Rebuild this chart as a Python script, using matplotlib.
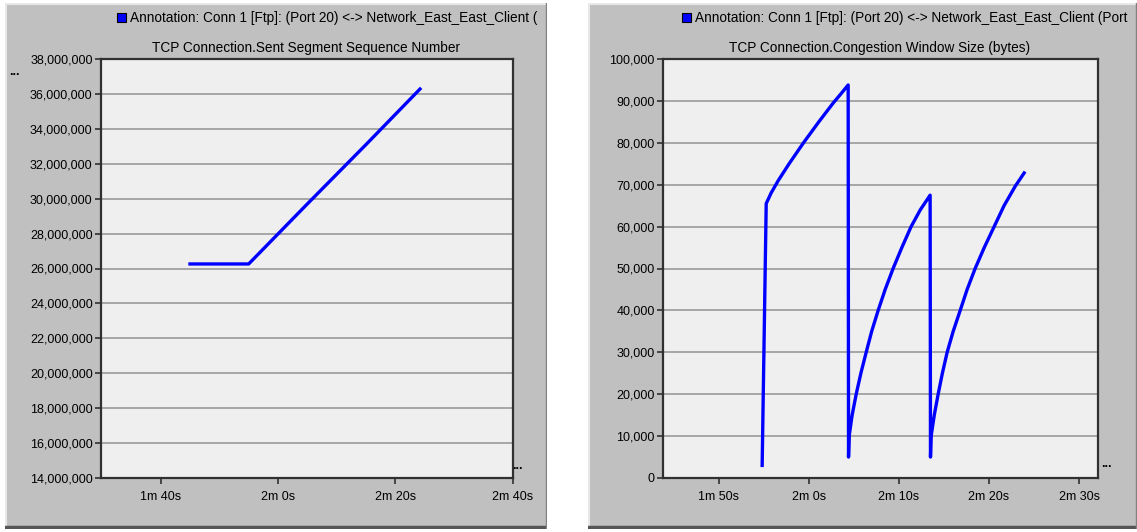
import matplotlib
matplotlib.use("Agg")
import matplotlib.pyplot as plt
from matplotlib.patches import Rectangle
from matplotlib.ticker import FuncFormatter

# ---------------- data ----------------
seq_time = [105.0, 115.0, 125.0, 135.0, 144.2]
seq_value = [26.26e6, 26.26e6, 29.7e6, 33.1e6, 36.28e6]

cwnd_time = [114.81, 115.26, 115.8, 116.6, 117.8, 119.4, 121.1, 122.7, 123.6, 124.36,
             124.40, 124.47, 124.80, 125.25, 125.77, 126.36, 126.97, 127.69, 128.47,
             129.35, 130.32, 131.35, 132.37, 133.46,
             133.50, 133.57, 133.92, 134.35, 134.82, 135.35, 136.02, 136.80, 137.57,
             138.46, 139.47, 140.57, 141.67, 142.90, 143.90]
cwnd_value = [3000, 65500, 68000, 71000, 75000, 80000, 85000, 89500, 91800, 93800,
              5000, 10000, 15000, 20000, 25000, 30000, 35000, 40000, 45000,
              50000, 55000, 60000, 64000, 67500,
              5000, 10000, 15000, 20000, 25000, 30000, 35000, 40000, 45000,
              50000, 55000, 60000, 65000, 69600, 72800]

left_xticks = [100, 120, 140, 160]
left_xlabels = ["1m 40s", "2m 0s", "2m 20s", "2m 40s"]
left_yticks = list(range(14_000_000, 38_000_001, 2_000_000))

right_xticks = [110, 120, 130, 140, 150]
right_xlabels = ["1m 50s", "2m 0s", "2m 10s", "2m 20s", "2m 30s"]
right_yticks = list(range(0, 100_001, 10_000))

left_legend = "Annotation: Conn 1 [Ftp]: (Port 20) <-> Network_East_East_Client ("
right_legend = "Annotation: Conn 1 [Ftp]: (Port 20) <-> Network_East_East_Client (Port"
left_title = "TCP Connection.Sent Segment Sequence Number"
right_title = "TCP Connection.Congestion Window Size (bytes)"

# ---------------- layout ----------------
W, H = 1137, 532
plt.rcParams['font.family'] = ['Liberation Sans', 'DejaVu Sans']
fig = plt.figure(figsize=(W / 100, H / 100), dpi=100, facecolor='white')

PANEL = '#c0c0c0'
PLOT_BG = '#efefef'
GRID = '#a0a0a0'
DARK = '#303030'
BLUE = '#0000ff'


def rect(x0, y0, x1, y1):
    return [x0 / W, 1 - y1 / H, (x1 - x0) / W, (y1 - y0) / H]


def panel(x0, y0, x1, y1):
    ax = fig.add_axes(rect(x0, y0, x1, y1))
    ax.set_xlim(x0, x1)
    ax.set_ylim(y1, y0)
    ax.set_facecolor(PANEL)
    ax.set_xticks([])
    ax.set_yticks([])
    for s in ax.spines.values():
        s.set_visible(False)
    ax.plot([x0 + 1, x1], [y0 + 1, y0 + 1], color='#e8e8e8', lw=1.5)
    ax.plot([x0 + 1, x0 + 1], [y0, y1], color='#e8e8e8', lw=1.5)
    ax.plot([x0, x1], [y1 - 2, y1 - 2], color='#555555', lw=2.5)
    ax.plot([x1 - 1, x1 - 1], [y0, y1], color='#808080', lw=1.0)
    return ax


def legend_row(ax, sq_x, y, text):
    ax.add_patch(Rectangle((sq_x, y - 5), 9, 9, facecolor=BLUE, edgecolor='black', lw=0.8))
    ax.text(sq_x + 13, y, text, fontsize=9.8, va='center', ha='left', color='black')


def plot_axes(x0, y0, x1, y1):
    ax = fig.add_axes(rect(x0, y0, x1, y1))
    ax.set_facecolor(PLOT_BG)
    for s in ax.spines.values():
        s.set_color(DARK)
        s.set_linewidth(1.6)
    ax.tick_params(axis='both', direction='out', length=4, width=1.2, color=DARK,
                   labelsize=9, labelcolor='black', pad=2)
    ax.tick_params(axis='x', pad=5)
    ax.grid(axis='y', color=GRID, lw=1.3)
    ax.set_axisbelow(True)
    return ax


# left panel
pl = panel(5, 3, 547, 529)
legend_row(pl, 117, 18, left_legend)
pl.text(306, 48, left_title, fontsize=9.8, ha='center', va='center')
pl.text(14, 72, "...", fontsize=9, fontweight='bold', ha='center', va='center')
pl.text(517, 466, "...", fontsize=9, fontweight='bold', ha='center', va='center')

ax1 = plot_axes(101, 59, 512.7, 478)
ax1.plot(seq_time, seq_value, color=BLUE, lw=2.4)
ax1.set_xlim(89.83, 160)
ax1.set_ylim(14_000_000, 38_000_000)
ax1.set_xticks(left_xticks)
ax1.set_xticklabels(left_xlabels)
ax1.set_yticks(left_yticks)
ax1.yaxis.set_major_formatter(FuncFormatter(lambda v, p: f"{int(round(v)):,}"))

# right panel
pr = panel(588, 3, 1137, 529)
legend_row(pr, 682, 18, right_legend)
pr.text(880, 48, right_title, fontsize=9.8, ha='center', va='center')
pr.text(1106, 464, "...", fontsize=9, fontweight='bold', ha='center', va='center')

ax2 = plot_axes(663, 59, 1098, 478)
ax2.plot(cwnd_time, cwnd_value, color=BLUE, lw=2.4)
ax2.set_xlim(103.8, 152.1)
ax2.set_ylim(0, 100_000)
ax2.set_xticks(right_xticks)
ax2.set_xticklabels(right_xlabels)
ax2.set_yticks(right_yticks)
ax2.yaxis.set_major_formatter(FuncFormatter(lambda v, p: f"{int(round(v)):,}"))

fig.savefig("out.png", dpi=100, facecolor='white')
